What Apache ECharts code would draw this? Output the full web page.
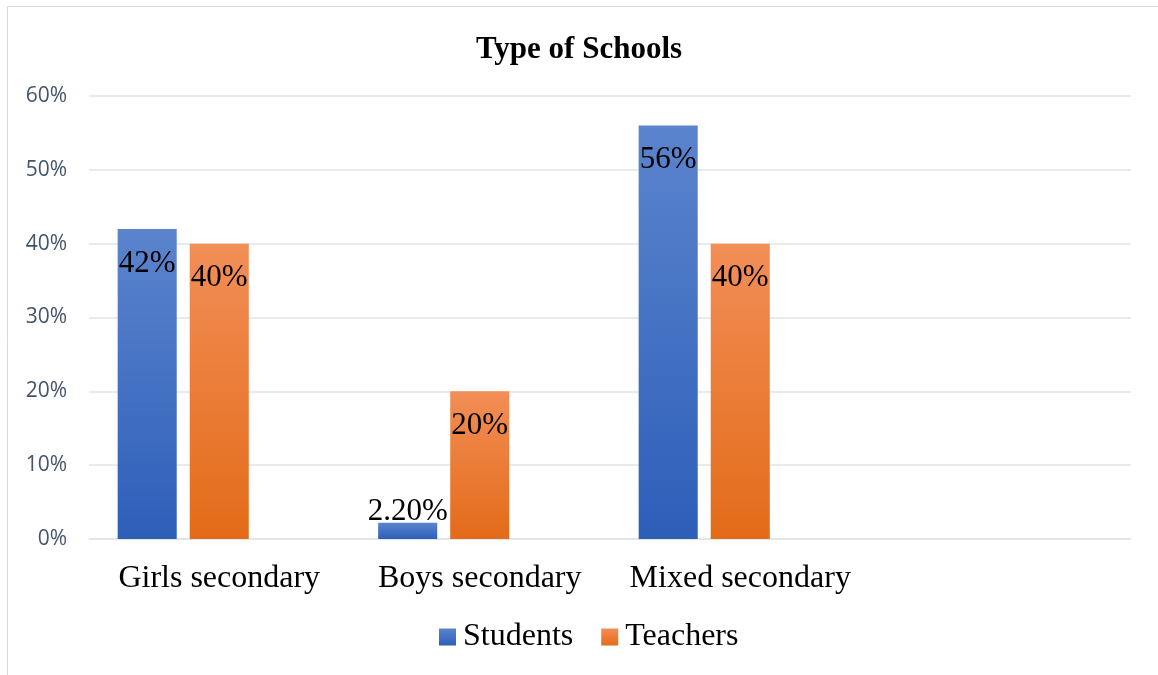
<!DOCTYPE html>
<html><head><meta charset="utf-8">
<script src="https://cdn.jsdelivr.net/npm/echarts@6/dist/echarts.min.js"></script>
<style>html,body{margin:0;padding:0;background:#fff}#c{width:1158px;height:675px}</style>
</head><body><div id="c"></div>
<script>
const categories = ['Girls secondary', 'Boys secondary', 'Mixed secondary', ''];
const students = [42, 2.2, 56, null];
const teachers = [40, 20, 40, null];
const extra = [null, null, null, null];
const yTicks = [0, 10, 20, 30, 40, 50, 60];

function grad(top, bottom) {
  return new echarts.graphic.LinearGradient(0, 0, 0, 1, [
    { offset: 0, color: top }, { offset: 1, color: bottom }
  ]);
}
const serif = '"Liberation Serif", "Times New Roman", serif';
const labelFmt = p => {
  const v = p.value;
  return (v === 2.2 ? v.toFixed(2) : String(v)) + '%';
};
const chart = echarts.init(document.getElementById('c'));
chart.setOption({
  animation: false,
  graphic: [{
    type: 'rect', shape: { x: 7.5, y: 6.5, width: 1160, height: 680 },
    style: { fill: 'none', stroke: '#d9d9d9', lineWidth: 1 }, silent: true, z: -1
  }],
  title: {
    text: 'Type of Schools', left: 'center', top: 29,
    textStyle: { fontFamily: serif, fontWeight: 'bold', fontSize: 31, color: '#000' }
  },
  legend: {
    bottom: 17, left: 434, itemWidth: 17, itemHeight: 17, itemGap: 28,
    icon: 'rect',
    data: ['Students', 'Teachers'],
    textStyle: { fontFamily: serif, fontSize: 32, color: '#000', padding: [0, 0, 0, 2] }
  },
  grid: { left: 89, right: 27, top: 96, bottom: 136, containLabel: false },
  xAxis: {
    type: 'category', data: categories,
    axisLine: { show: true, lineStyle: { color: '#e0e3e8', width: 1.5 } },
    axisTick: { show: false },
    axisLabel: { interval: 0, hideOverlap: false, fontFamily: serif, fontSize: 32, color: '#000', margin: 24 }
  },
  yAxis: {
    type: 'value', min: yTicks[0], max: yTicks[yTicks.length - 1], interval: 10,
    axisLine: { show: false }, axisTick: { show: false },
    splitLine: { lineStyle: { color: '#e0e3e8', width: 1.5 } },
    axisLabel: { formatter: v => v + '%', fontFamily: '"Open Sans", sans-serif', fontSize: 21, color: '#44546a', margin: 22 }
  },
  series: [
    {
      name: 'Students', type: 'bar', barGap: '22%', barCategoryGap: '22%',
      data: students.map(v => v === 2.2 ? { value: v, label: { position: 'top', distance: -5 } } : v),
      itemStyle: { color: grad('#5b84cd', '#2d5fb9') },
      label: { show: true, position: 'insideTop', distance: 19, formatter: labelFmt, fontFamily: serif, fontSize: 31, color: '#000' }
    },
    {
      name: 'Teachers', type: 'bar',
      data: teachers,
      itemStyle: { color: grad('#f28e57', '#e36b18') },
      label: { show: true, position: 'insideTop', distance: 19, formatter: labelFmt, fontFamily: serif, fontSize: 31, color: '#000' }
    },
    { name: 'Other', type: 'bar', data: extra }
  ]
});
</script></body></html>
